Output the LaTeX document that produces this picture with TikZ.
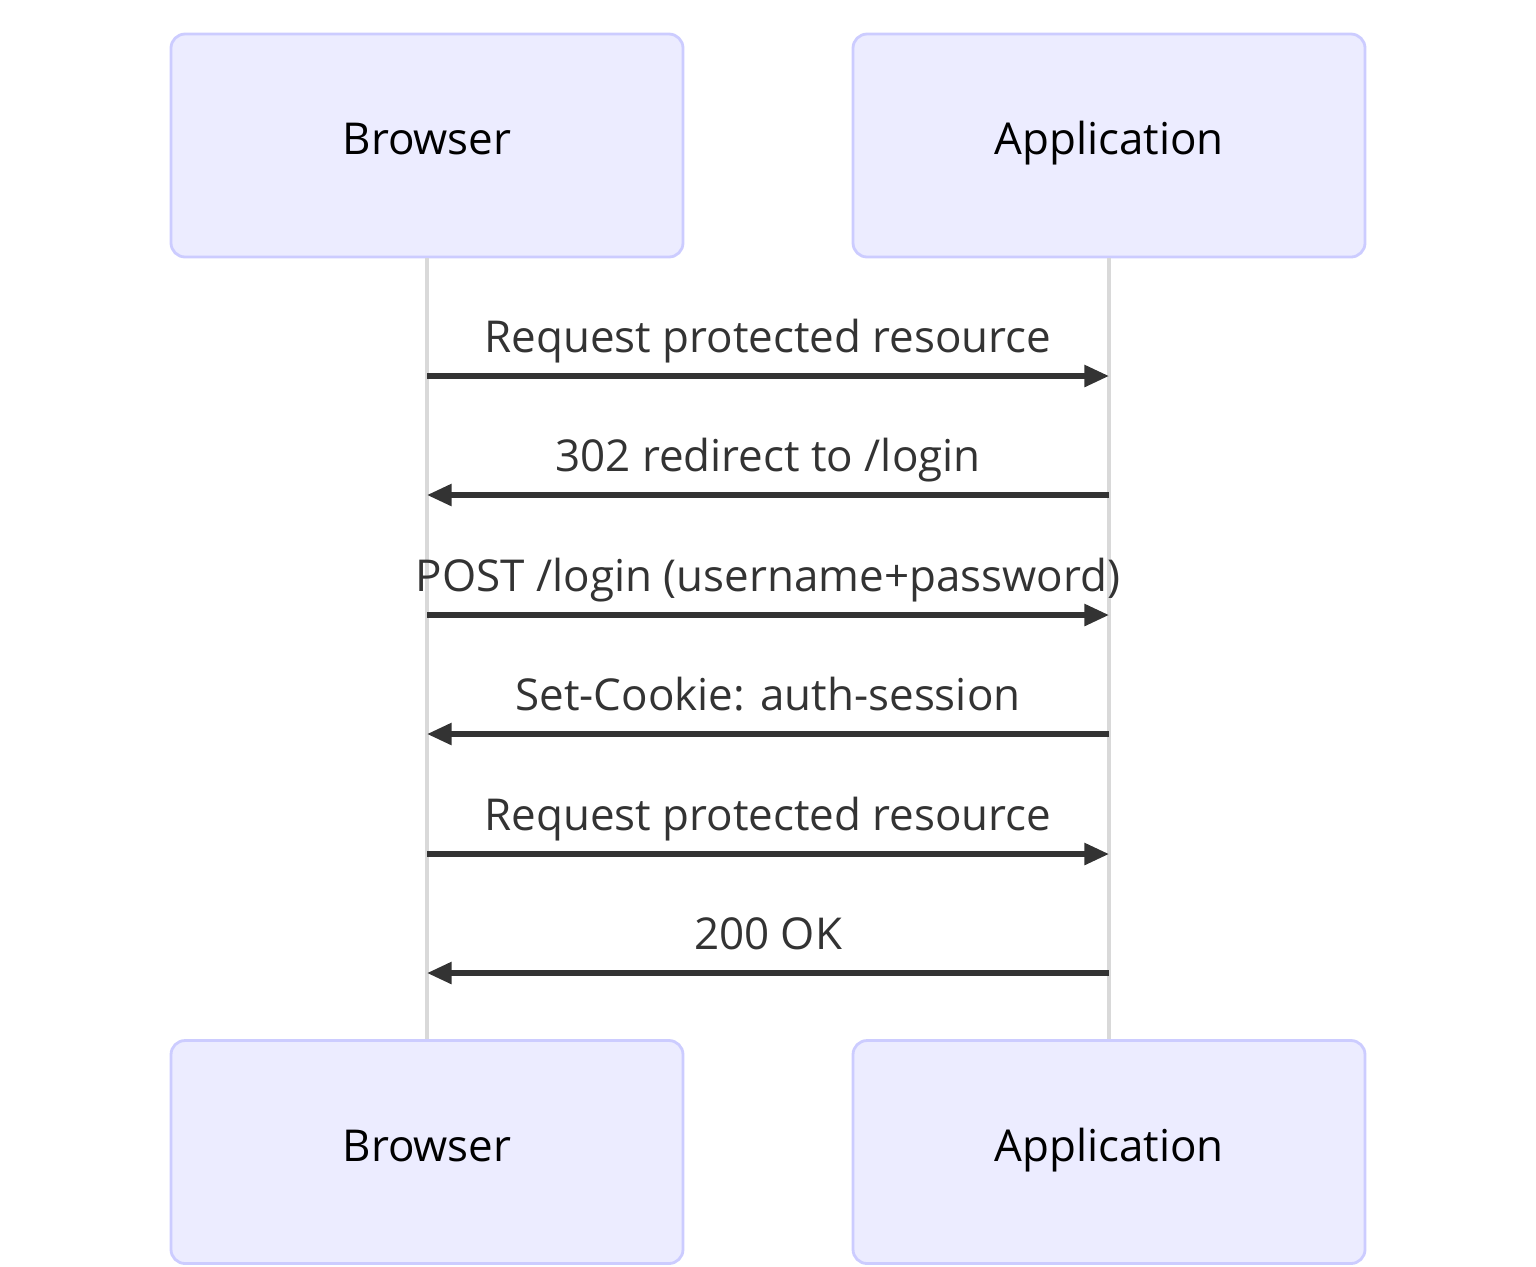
\documentclass[tikz,border=0pt]{standalone}
\usepackage{fontspec}
\setmainfont{Open Sans}
\usetikzlibrary{arrows.meta,positioning}
\definecolor{actorFill}{HTML}{ECECFF}
\definecolor{actorLine}{HTML}{CCCCFF}
\definecolor{lifeLine}{HTML}{D9D9D9}
\definecolor{msgLine}{HTML}{333333}
\tikzset{
  actor/.style={draw=actorLine, fill=actorFill, rounded corners=4pt, line width=0.8pt,
    minimum width=5.12cm, minimum height=2.23cm, text height=1.3ex, text depth=0.3ex,
    font=\fontsize{12.5}{15}\selectfont, text=black},
  lifeline/.style={draw=lifeLine, line width=1.3pt},
  message/.style={draw=msgLine, line width=1.5pt, -{Triangle[length=7pt,width=6pt]}},
  msglabel/.style={font=\fontsize{12.5}{15}\selectfont, text=msgLine, anchor=base}
}
\begin{document}
\begin{tikzpicture}
\useasboundingbox (0,0) rectangle (15.36,-12.66);
% actors
\node[actor] (browserTop) at (4.27,-1.455) {Browser};
\node[actor] (appTop) at (11.09,-1.455) {Application};
\node[actor] (browserBot) at (4.27,-11.52) {Browser};
\node[actor] (appBot) at (11.09,-11.52) {Application};
% lifelines
\draw[lifeline] (browserTop.south) -- (browserBot.north);
\draw[lifeline] (appTop.south) -- (appBot.north);
% messages
\foreach \y/\dir/\txt [count=\i] in {
  3.76/r/{Request protected resource},
  4.95/l/{302 redirect to /login},
  6.15/r/{POST /login (username+password)},
  7.34/l/{Set-Cookie: auth-session},
  8.54/r/{Request protected resource},
  9.73/l/{200 OK}} {
  \coordinate (b\i) at (4.27,-\y);
  \coordinate (a\i) at (11.09,-\y);
  \if r\dir
    \draw[message] (b\i) -- (a\i);
  \else
    \draw[message] (a\i) -- (b\i);
  \fi
  \node[msglabel] (m\i) at (7.68,-\y+0.24) {\txt};
}
\end{tikzpicture}
\end{document}
